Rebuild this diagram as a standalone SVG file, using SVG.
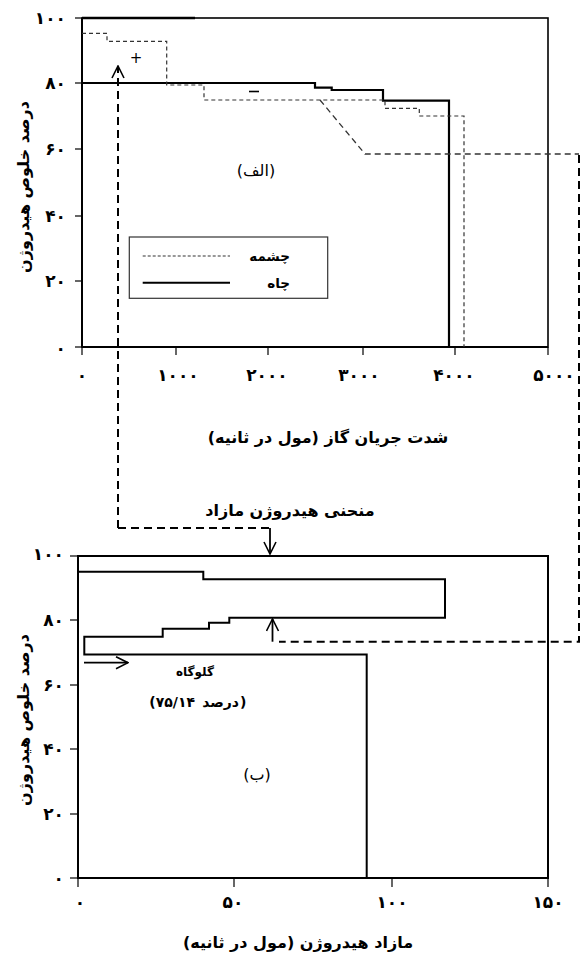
<svg xmlns="http://www.w3.org/2000/svg" width="583" height="957" viewBox="0 0 583 957">
  <style>
    .bg { fill: #ffffff; }
    .frame { fill: none; stroke: #000; stroke-width: 2; }
    .tick { stroke: #000; stroke-width: 1.2; }
    .lbl { font-family: "DejaVu Sans", sans-serif; font-weight: bold; font-size: 17px; fill: #000; }
    .title { font-family: "DejaVu Sans", sans-serif; font-weight: bold; font-size: 16px; fill: #000; }
    .note { font-family: "DejaVu Sans", sans-serif; font-weight: bold; font-size: 12px; fill: #000; }
    .tag { font-family: "DejaVu Sans", sans-serif; font-size: 16px; fill: #000; }
    .well { fill: none; stroke: #000; stroke-width: 2.2; stroke-linejoin: miter; }
    .spring { fill: none; stroke: #333; stroke-width: 1.2; stroke-dasharray: 4 3; }
    .curve { fill: none; stroke: #000; stroke-width: 2; }
    .link { fill: none; stroke: #000; stroke-width: 2; stroke-dasharray: 8 5; }
    .linkthin { fill: none; stroke: #333; stroke-width: 1.3; stroke-dasharray: 6 4; }
    .arrow { fill: none; stroke: #000; stroke-width: 1.8; }
  </style>
  <defs>
    <marker id="chevBig" viewBox="0 0 14 14" refX="13" refY="7" markerWidth="14" markerHeight="14" markerUnits="userSpaceOnUse" orient="auto">
      <path d="M1,1 L13,7 L1,13" fill="none" stroke="#000" stroke-width="1.6"/>
    </marker>
  </defs>
  <rect class="bg" x="0" y="0" width="583" height="957"/>

  <!-- Chart (a): gas flow rate vs hydrogen purity -->
  <g id="chart-a">
    <rect class="frame" x="82" y="18" width="466" height="329" style="stroke-width:1.6"/>
    <line x1="82" y1="18" x2="82" y2="347" stroke="#000" stroke-width="2"/>
    <line x1="82" y1="347" x2="548" y2="347" stroke="#000" stroke-width="2"/>
    <!-- ticks -->
    <g class="tick">
      <line x1="75" y1="18" x2="82" y2="18"/>
      <line x1="75" y1="83" x2="82" y2="83"/>
      <line x1="75" y1="149" x2="82" y2="149"/>
      <line x1="75" y1="216" x2="82" y2="216"/>
      <line x1="75" y1="281" x2="82" y2="281"/>
      <line x1="75" y1="347" x2="82" y2="347"/>
      <line x1="82" y1="347" x2="82" y2="355"/>
      <line x1="176" y1="347" x2="176" y2="355"/>
      <line x1="268" y1="347" x2="268" y2="355"/>
      <line x1="363" y1="347" x2="363" y2="355"/>
      <line x1="455" y1="347" x2="455" y2="355"/>
      <line x1="548" y1="347" x2="548" y2="355"/>
    </g>
    <g class="lbl" text-anchor="end" dominant-baseline="central">
      <text x="66" y="18">۱۰۰</text>
      <text x="66" y="83">۸۰</text>
      <text x="66" y="149">۶۰</text>
      <text x="66" y="216">۴۰</text>
      <text x="66" y="281">۲۰</text>
      <text x="66" y="348">۰</text>
    </g>
    <g class="lbl" text-anchor="middle" dominant-baseline="central">
      <text x="82" y="375">۰</text>
      <text x="178" y="375">۱۰۰۰</text>
      <text x="267" y="375">۲۰۰۰</text>
      <text x="359" y="375">۳۰۰۰</text>
      <text x="454" y="375">۴۰۰۰</text>
      <text x="554" y="375">۵۰۰۰</text>
    </g>
    <text class="title" x="328" y="437" text-anchor="middle" dominant-baseline="central">شدت جریان گاز (مول در ثانیه)</text>
    <text class="title" transform="translate(23,187) rotate(-90)" text-anchor="middle" dominant-baseline="central">درصد خلوص هیدروژن</text>

    <!-- well curve -->
    <line x1="82" y1="18" x2="195" y2="18" stroke="#000" stroke-width="2.6"/>
    <path class="well" d="M82,83 H315 V87.7 H331.7 V90 H383 V100.7 H449 V347"/>
    <!-- spring curve -->
    <path class="spring" d="M82,33.3 H107 V41.3 H166.7 V85 H204 V100 H385 V108.3 H419.3 V116 H464 V347"/>

    <text x="136" y="58" class="tag" text-anchor="middle" dominant-baseline="central" style="font-size:15px">+</text>
    <line x1="249" y1="91.5" x2="259" y2="91.5" stroke="#000" stroke-width="1.6"/>
    <text x="256" y="170" class="tag" text-anchor="middle" dominant-baseline="central">(الف)</text>

    <!-- legend -->
    <g id="legend">
      <rect x="129.3" y="237" width="198.4" height="61.3" fill="none" stroke="#333" stroke-width="1.2"/>
      <line x1="142.7" y1="256" x2="230" y2="256" stroke="#333" stroke-width="1.1" stroke-dasharray="3 2"/>
      <line x1="142.7" y1="282.7" x2="230" y2="282.7" stroke="#000" stroke-width="2"/>
      <text class="note" x="290" y="256" text-anchor="end" dominant-baseline="central" style="font-size:13.5px">چشمه</text>
      <text class="note" x="290" y="282.7" text-anchor="end" dominant-baseline="central" style="font-size:13.5px">چاه</text>
    </g>
  </g>

  <!-- Chart (b): hydrogen surplus vs hydrogen purity -->
  <g id="chart-b">
    <path class="frame" d="M78,556 H548 V878 H78 Z"/>
    <g class="tick">
      <line x1="70" y1="556" x2="78" y2="556"/>
      <line x1="70" y1="620" x2="78" y2="620"/>
      <line x1="70" y1="685" x2="78" y2="685"/>
      <line x1="70" y1="749" x2="78" y2="749"/>
      <line x1="70" y1="814" x2="78" y2="814"/>
      <line x1="70" y1="878" x2="78" y2="878"/>
      <line x1="78" y1="878" x2="78" y2="887"/>
      <line x1="234" y1="878" x2="234" y2="887"/>
      <line x1="392" y1="878" x2="392" y2="887"/>
      <line x1="548" y1="878" x2="548" y2="887"/>
    </g>
    <g class="lbl" text-anchor="end" dominant-baseline="central">
      <text x="64" y="554">۱۰۰</text>
      <text x="64" y="620">۸۰</text>
      <text x="64" y="685">۶۰</text>
      <text x="64" y="749">۴۰</text>
      <text x="64" y="814">۲۰</text>
      <text x="64" y="878">۰</text>
    </g>
    <g class="lbl" text-anchor="middle" dominant-baseline="central">
      <text x="80" y="902">۰</text>
      <text x="233" y="902">۵۰</text>
      <text x="392" y="902">۱۰۰</text>
      <text x="548" y="902">۱۵۰</text>
    </g>
    <text class="title" x="298" y="942" text-anchor="middle" dominant-baseline="central">مازاد هیدروژن (مول در ثانیه)</text>
    <text class="title" transform="translate(23,720) rotate(-90)" text-anchor="middle" dominant-baseline="central">درصد خلوص هیدروژن</text>

    <!-- surplus curve -->
    <path class="curve" d="M78,571.7 H203.3 V579.3 H445 V617.7 H229.3 V622.7 H209 V628.7 H162.7 V636.7 H84.3 V654.5 H366.7 V878"/>

    <line class="arrow" x1="84" y1="662.7" x2="128" y2="662.7" marker-end="url(#chevBig)"/>
    <text class="note" x="195" y="672" text-anchor="middle" dominant-baseline="central">گلوگاه</text>
    <!-- pinch value, laid out piece by piece: number on the left, word on the right -->
    <g class="note" dominant-baseline="central" style="font-size:14px">
      <text x="195" y="702" text-anchor="end">(۷۵/۱۴</text>
      <text x="239" y="702" text-anchor="end">درصد</text>
      <text x="240" y="702" text-anchor="start">)</text>
    </g>
    <text x="257" y="774" class="tag" text-anchor="middle" dominant-baseline="central">(ب)</text>
  </g>

  <!-- connectors between the charts -->
  <g id="connectors">
    <path class="link" d="M118,528 V66" marker-end="url(#chevBig)"/>
    <path class="link" d="M118,528 H270"/>
    <line class="arrow" x1="270" y1="528" x2="270" y2="554" marker-end="url(#chevBig)"/>
    <text class="note" x="290" y="510" text-anchor="middle" dominant-baseline="central" style="font-size:16px">منحنی هیدروژن مازاد</text>

    <path class="linkthin" d="M320,100 L365,154 H579"/>
    <path class="link" d="M579,155 V641.7 H279"/>
    <line class="arrow" x1="272.5" y1="641.7" x2="272.5" y2="619" marker-end="url(#chevBig)"/>
  </g>
</svg>
